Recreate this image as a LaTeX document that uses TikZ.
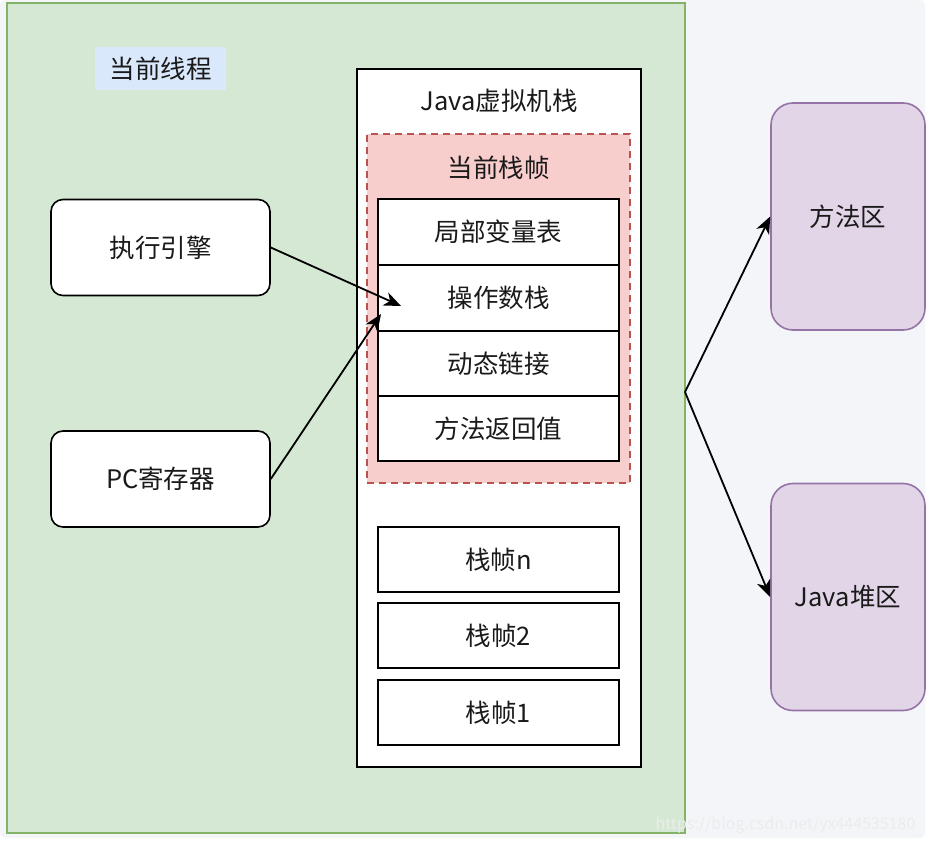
\documentclass[tikz,border=0pt]{standalone}
\usepackage{fontspec}
\setmainfont{Noto Sans CJK SC}
\usetikzlibrary{arrows.meta}
\definecolor{pagebg}{HTML}{F4F5F9}
\definecolor{gfill}{HTML}{D5E8D4}
\definecolor{gline}{HTML}{82B366}
\definecolor{bfill}{HTML}{DAE8FC}
\definecolor{rfill}{HTML}{F8CECC}
\definecolor{rline}{HTML}{B85450}
\definecolor{pfill}{HTML}{E1D5E7}
\definecolor{pline}{HTML}{9673A6}
\definecolor{txt}{HTML}{1A1A1A}
\tikzset{
  lbl/.style={font=\fontsize{25.5}{29}\selectfont, text=txt},
  cell/.style={draw=black, line width=1.6pt, fill=white, lbl, inner sep=0pt},
  rbox/.style={draw=black, line width=1.6pt, fill=white, rounded corners=12pt, lbl, inner sep=0pt, minimum width=219pt, minimum height=96pt},
  pbox/.style={draw=pline, line width=1.6pt, fill=pfill, rounded corners=22pt, lbl, inner sep=0pt, minimum width=154pt, minimum height=227pt},
  arr/.style={-{Stealth[length=17pt,width=14pt,inset=5pt]}, line width=1.8pt, black},
}
\begin{document}
\begin{tikzpicture}[x=1pt,y=-1pt]
\useasboundingbox (0,0) rectangle (929,843);
\fill[white] (0,0) rectangle (929,843);
\fill[pagebg, rounded corners=6pt] (0,0) rectangle (925,838);
% thread box
\node[draw=gline, fill=gfill, line width=1.6pt, minimum width=678pt, minimum height=830pt, inner sep=0pt] (thread) at (346,418) {};
\node[fill=bfill, minimum width=131pt, minimum height=43pt, inner sep=0pt, lbl] (tlabel) at (160.5,68.5) {当前线程};
% JVM stack
\node[draw=black, line width=1.6pt, fill=white, minimum width=284pt, minimum height=698pt, inner sep=0pt] (jvm) at (499,418) {};
\node[lbl] (jvmlabel) at (499,101) {Java虚拟机栈};
\node[draw=rline, dashed, dash pattern=on 7pt off 5pt, line width=1.6pt, fill=rfill, minimum width=263pt, minimum height=349pt, inner sep=0pt] (frame) at (498.5,308.5) {};
\node[lbl] (framelabel) at (498.5,168) {当前栈帧};
\node[cell, minimum width=241pt, minimum height=66pt] (c1) at (498.5,232) {局部变量表};
\node[cell, minimum width=241pt, minimum height=66pt] (c2) at (498.5,298) {操作数栈};
\node[cell, minimum width=241pt, minimum height=65pt] (c3) at (498.5,363.5) {动态链接};
\node[cell, minimum width=241pt, minimum height=65pt] (c4) at (498.5,428.5) {方法返回值};
\node[cell, minimum width=241pt, minimum height=65pt] (fn) at (498.5,559.5) {栈帧n};
\node[cell, minimum width=241pt, minimum height=65pt] (f2) at (498.5,635.5) {栈帧2};
\node[cell, minimum width=241pt, minimum height=65pt] (f1) at (498.5,712.5) {栈帧1};
% left boxes
\node[rbox] (engine) at (160.5,247.5) {执行引擎};
\node[rbox] (pc) at (160.5,479) {PC寄存器};
% right boxes
\node[pbox] (method) at (848,216.5) {方法区};
\node[pbox] (heap) at (848,597) {Java堆区};
% arrows
\coordinate (t1) at (401,306);
\coordinate (t2) at (381,314);
\draw[arr] (engine.east) -- (t1);
\draw[arr] (pc.east) -- (t2);
\coordinate (src) at (685,392);
\draw[arr] (src) -- (method.west);
\draw[arr] (src) -- (heap.west);
% watermark
\node[font=\fontsize{16}{18}\selectfont, text=white!85!gray, anchor=east] (wm) at (919,825) {https://blog.csdn.net/yx444535180};
\end{tikzpicture}
\end{document}
